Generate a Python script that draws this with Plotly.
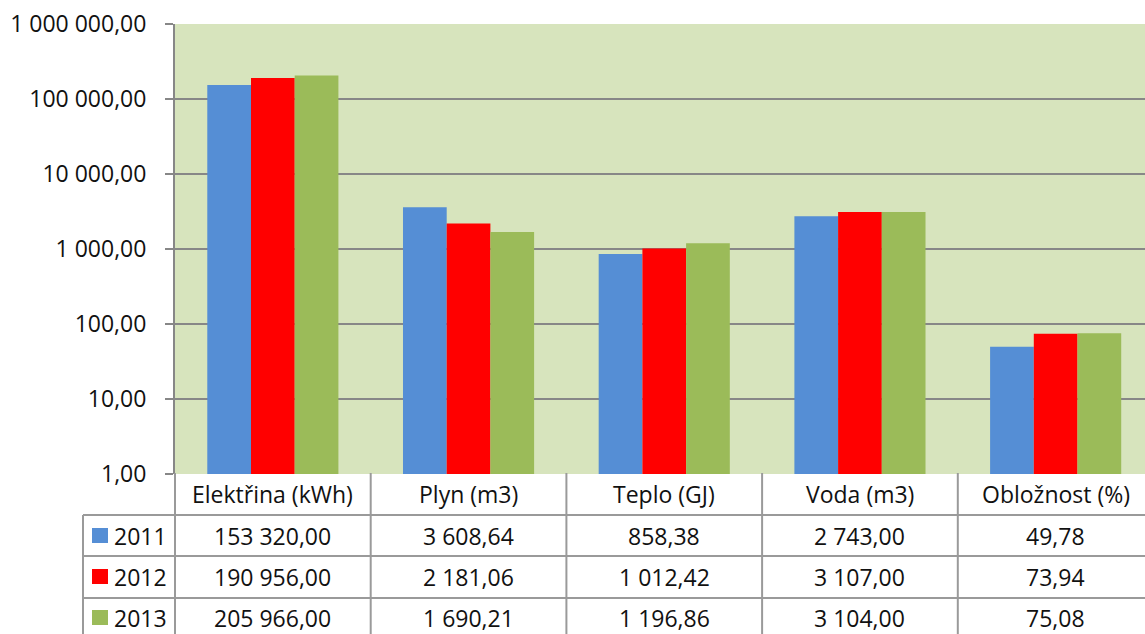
import plotly.graph_objects as go

categories = ["Elektřina (kWh)", "Plyn (m3)", "Teplo (GJ)", "Voda (m3)", "Obložnost (%)"]
years = ["2011", "2012", "2013"]
v2011 = [153320.00, 3608.64, 858.38, 2743.00, 49.78]
v2012 = [190956.00, 2181.06, 1012.42, 3107.00, 73.94]
v2013 = [205966.00, 1690.21, 1196.86, 3104.00, 75.08]
series = [v2011, v2012, v2013]
colors = ["#558ED5", "#FF0000", "#9BBB59"]
tick_vals = [1, 10, 100, 1000, 10000, 100000, 1000000]
tick_text = ["1,00", "10,00", "100,00", "1 000,00", "10 000,00", "100 000,00", "1 000 000,00"]

W, H = 1145, 634
ML, MR, MT, MB = 175, 0, 24, 160
PW, PH = W - ML - MR, H - MT - MB
COLW = 195.7
XR = [-0.5, -0.5 + PW / COLW]
FONT = "Open Sans"
FS = 23
FS_HEAD = 23
FS_TICK = 23
GRID = "#878787"
TBL = "#9A9A9A"


def fmt(v):
    return f"{v:,.2f}".replace(",", " ").replace(".", ",")


def px_x(px):
    return (px - ML) / PW


def px_y(py):
    return (H - MB - py) / PH


def cat_x(c):
    return (c - XR[0]) / (XR[1] - XR[0])


fig = go.Figure()
for name, vals, col in zip(years, series, colors):
    fig.add_trace(go.Bar(x=list(range(len(categories))), y=vals, name=name,
                         marker=dict(color=col, line=dict(width=0))))

shapes = []
ann = []
row_tops = [473, 515, 556, 598]
row_bot = 640
for yb in row_tops[1:]:
    shapes.append(dict(type="line", xref="paper", yref="paper",
                       x0=px_x(83), x1=1.0, y0=px_y(yb), y1=px_y(yb),
                       line=dict(color=TBL, width=2)))
shapes.append(dict(type="line", xref="paper", yref="paper",
                   x0=px_x(83), x1=px_x(83), y0=px_y(515), y1=px_y(row_bot),
                   line=dict(color=TBL, width=2)))
for b in range(len(categories)):
    xb = cat_x(b - 0.5)
    shapes.append(dict(type="line", xref="paper", yref="paper",
                       x0=xb, x1=xb, y0=px_y(473), y1=px_y(row_bot),
                       line=dict(color=TBL, width=2)))

centers = [494, 536, 577, 618]
for i, c in enumerate(categories):
    ann.append(dict(x=cat_x(i), y=px_y(centers[0]), xref="paper", yref="paper",
                    text=c, showarrow=False, xanchor="center", yanchor="middle",
                    font=dict(family=FONT, size=FS_HEAD, color="#111")))
for r, (name, vals, col) in enumerate(zip(years, series, colors)):
    yc = centers[r + 1]
    shapes.append(dict(type="rect", xref="paper", yref="paper",
                       x0=px_x(92), x1=px_x(108), y0=px_y(yc - 8), y1=px_y(yc + 7),
                       fillcolor=col, line=dict(width=0)))
    ann.append(dict(x=px_x(112), y=px_y(yc), xref="paper", yref="paper",
                    text=name, showarrow=False, xanchor="left", yanchor="middle",
                    font=dict(family=FONT, size=FS_HEAD, color="#111")))
    for i, v in enumerate(vals):
        ann.append(dict(x=cat_x(i), y=px_y(yc), xref="paper", yref="paper",
                        text=fmt(v), showarrow=False, xanchor="center", yanchor="middle",
                        font=dict(family=FONT, size=FS, color="#111")))

fig.update_layout(
    width=W, height=H, autosize=False,
    margin=dict(l=ML, r=MR, t=MT, b=MB, pad=0),
    paper_bgcolor="white", plot_bgcolor="#D7E4BD",
    barmode="group", bargap=0.33, bargroupgap=0,
    showlegend=False,
    shapes=shapes, annotations=ann,
    font=dict(family=FONT, size=FS, color="#111"),
)
fig.update_xaxes(range=XR, showticklabels=False, showgrid=False, zeroline=False,
                 showline=False, ticks="")
fig.update_yaxes(type="log", range=[0, 6], tickvals=tick_vals, ticktext=tick_text,
                 showgrid=True, gridcolor=GRID, gridwidth=2,
                 showline=True, linecolor=GRID, linewidth=2,
                 ticks="outside", ticklen=8, tickcolor=GRID, tickwidth=2,
                 ticklabelstandoff=14, zeroline=False,
                 tickfont=dict(family=FONT, size=FS_TICK, color="#111"))

fig.write_html("out.html", config={"displayModeBar": False},
               post_script="document.body.style.margin='0px';document.body.style.overflow='hidden';")
